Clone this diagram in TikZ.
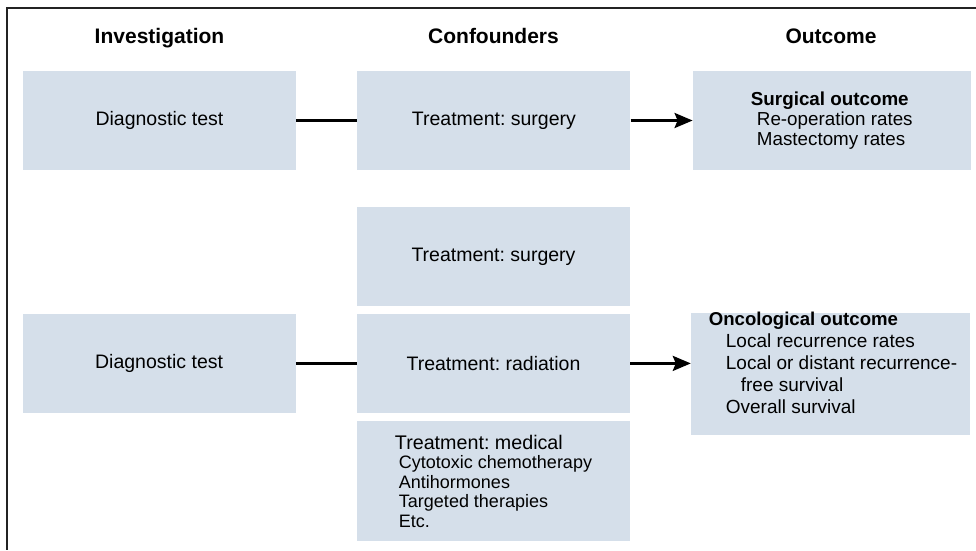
\documentclass[tikz,border=0pt]{standalone}
\usepackage{fontspec}
\setmainfont{Liberation Sans}
\frenchspacing
\usetikzlibrary{positioning,arrows.meta}

\definecolor{boxblue}{RGB}{213,223,234}
\definecolor{framegray}{RGB}{35,35,35}

\tikzset{
  box/.style={fill=boxblue, minimum width=273pt, minimum height=98.5pt,
    inner sep=0pt, font=\fontsize{19.5}{22}\selectfont},
  head/.style={font=\fontsize{21}{24}\selectfont\bfseries, anchor=base},
  link/.style={line width=2.8pt},
  flow/.style={line width=2.8pt, -{Stealth[length=18pt,width=15pt,inset=3pt]}},
}

\begin{document}
\begin{tikzpicture}[x=1pt,y=-1pt]
        \useasboundingbox (0,0) rectangle (976,550);

        % Moldura
        \draw[line width=2.2pt, framegray] (976,8) -- (7,8) -- (7,550);

        % Titulos das colunas
        \node[head] (hinv) at (159.5,43) {Investigation};
        \node[head] (hconf) at (493.5,43) {Confounders};
        \node[head] (hout) at (831,43) {Outcome};

        % Linha 1
        \node[box] (diag1) at (159.5,120.5) {Diagnostic test};
        \node[box, right=61pt of diag1] (surg1) {Treatment: surgery};
        \node[box, right=62pt of surg1, minimum width=278pt, align=left,
          font=\fontsize{18.8}{20}\selectfont] (outc1)
          {\textbf{Surgical outcome}\\
           \hspace*{6pt}Re-operation rates\\
           \hspace*{6pt}Mastectomy rates};

        % Linha 2
        \node[box] (surg2) at (493.5,256.5) {Treatment: surgery};
        \node[box, below=8pt of surg2] (rad2) {Treatment: radiation};
        \node[box, below=8pt of rad2, minimum height=120pt, align=left,
          font=\fontsize{18}{19.5}\selectfont] (med2)
          {{\fontsize{19.7}{19.5}\selectfont Treatment: medical}\\
           \hspace*{4pt}Cytotoxic chemotherapy\\
           \hspace*{4pt}Antihormones\\
           \hspace*{4pt}Targeted therapies\\
           \hspace*{4pt}Etc.};
        \node[box, left=61pt of rad2] (diag2) {Diagnostic test};
        \node[box, minimum width=279pt, minimum height=122pt] (outc2) at (830.5,374) {};
        \node[align=left, inner sep=0pt, font=\fontsize{19}{22}\selectfont] (outc2txt) at (833,363)
          {{\fontsize{18.6}{22}\selectfont\bfseries Oncological outcome}\\
           \hspace*{17pt}Local recurrence rates\\
           \hspace*{17pt}Local or distant recurrence-\\
           \hspace*{32pt}free survival\\
           \hspace*{17pt}Overall survival};

        % Conexoes
        \draw[link] (diag1) -- (surg1);
        \draw[flow] (surg1) -- (outc1);
        \draw[link] (diag2) -- (rad2);
        \draw[flow] (rad2.east) -- (rad2.east -| outc2.west);
    \end{tikzpicture}
\end{document}
